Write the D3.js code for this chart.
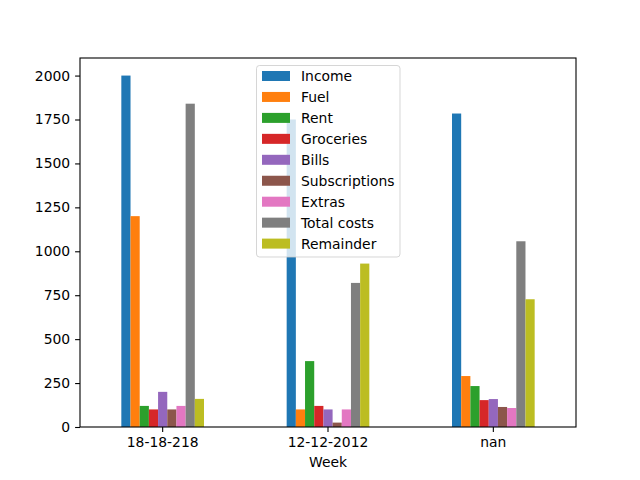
<!DOCTYPE html>
<html><head><meta charset="utf-8">
<script src="https://cdn.jsdelivr.net/npm/d3@7"></script>
<style>body{margin:0;background:#fff}svg{display:block}text{font-family:"DejaVu Sans",sans-serif}</style>
</head><body>
<script>
const weeks = ["18-18-218", "12-12-2012", "nan"];
const seriesNames = ["Income","Fuel","Rent","Groceries","Bills","Subscriptions","Extras","Total costs","Remainder"];
const income      = [2000, 1750, 1784];
const fuel        = [1200, 100, 290];
const rent        = [120, 375, 233];
const groceries   = [100, 120, 153];
const bills       = [200, 100, 159];
const subscriptions = [100, 25, 114];
const extras      = [120, 100, 108];
const totalCosts  = [1840, 820, 1057];
const remainder   = [160, 930, 727];
const yTicks = [0, 250, 500, 750, 1000, 1250, 1500, 1750, 2000];
const colors = ["#1f77b4","#ff7f0e","#2ca02c","#d62728","#9467bd","#8c564b","#e377c2","#7f7f7f","#bcbd22"];

const seriesValues = [income, fuel, rent, groceries, bills, subscriptions, extras, totalCosts, remainder];

const W = 640, H = 480;
const L = 80, R = 576, T = 58, B = 427;
const svg = d3.select("body").append("svg").attr("width", W).attr("height", H);

const x0 = d3.scaleBand().domain(weeks).range([L, R]).paddingInner(0.5).paddingOuter(0.25);
const x1 = d3.scaleBand().domain(seriesNames).range([0, x0.bandwidth()]).padding(0);
const y = d3.scaleLinear().domain([0, 2100]).range([B, T]);

// bars
seriesNames.forEach((s, si) => {
  svg.append("g").selectAll("rect").data(weeks).join("rect")
    .attr("x", w => x0(w) + x1(s))
    .attr("width", x1.bandwidth())
    .attr("y", (w, i) => y(seriesValues[si][i]))
    .attr("height", (w, i) => y(0) - y(seriesValues[si][i]))
    .attr("fill", colors[si]);
});

// axes
const fs = "13.9px";
const xAxis = svg.append("g").attr("transform", `translate(0,${B})`)
  .call(d3.axisBottom(x0).tickSize(4.9).tickPadding(4.9));
const yAxis = svg.append("g").attr("transform", `translate(${L},0)`)
  .call(d3.axisLeft(y).tickValues(yTicks).tickSize(4.9).tickPadding(4.9).tickFormat(d3.format("d")));
[xAxis, yAxis].forEach(a => {
  a.select(".domain").remove();
  a.selectAll("line").attr("stroke", "#000").attr("stroke-width", 1.1);
  a.selectAll("text").attr("fill", "#000").style("font-size", fs).style("font-family", "DejaVu Sans");
});

// spines
svg.append("rect").attr("x", L).attr("y", T).attr("width", R - L).attr("height", B - T)
  .attr("fill", "none").attr("stroke", "#000").attr("stroke-width", 1.1);

// x label
svg.append("text").attr("x", (L + R) / 2).attr("y", 467).attr("text-anchor", "middle")
  .style("font-size", fs).text("Week");

// legend
const lg = svg.append("g");
lg.append("rect").attr("x", 256.5).attr("y", 65.5).attr("width", 143.5).attr("height", 191.5)
  .attr("rx", 3).attr("fill", "#fff").attr("fill-opacity", 0.8)
  .attr("stroke", "#ccc").attr("stroke-opacity", 0.8).attr("stroke-width", 1);
seriesNames.forEach((s, i) => {
  const cy = 76 + i * 20.95;
  lg.append("rect").attr("x", 262).attr("y", cy - 5).attr("width", 28).attr("height", 10).attr("fill", colors[i]);
  lg.append("text").attr("x", 301).attr("y", cy).attr("dy", "0.36em").style("font-size", fs).text(s);
});
</script>
</body></html>
